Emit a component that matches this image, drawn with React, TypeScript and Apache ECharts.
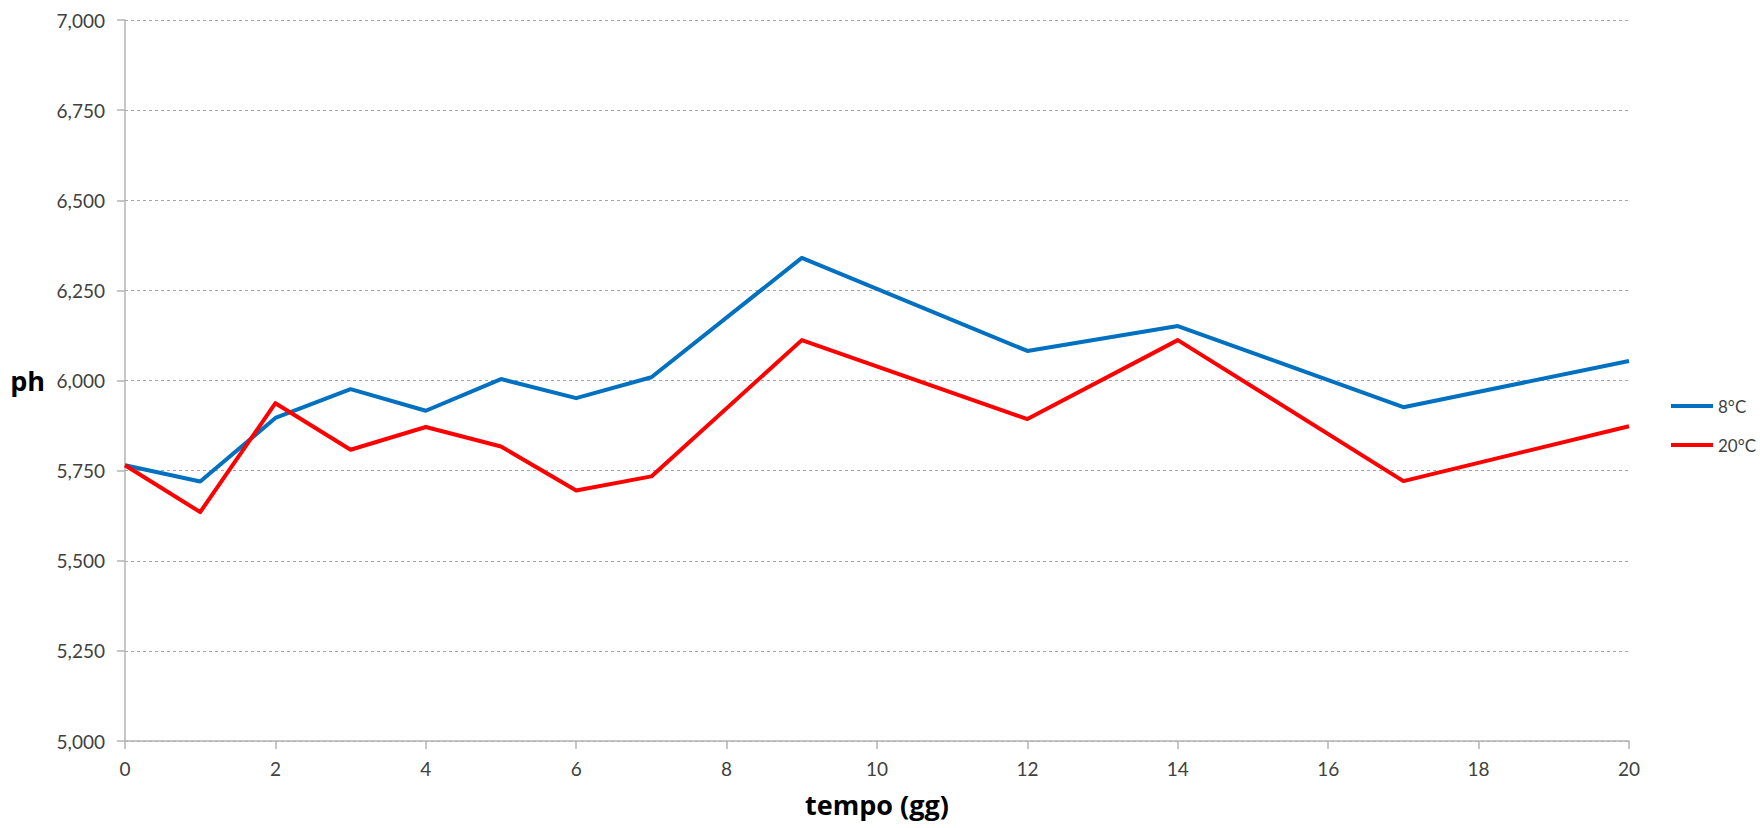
import React, { useEffect, useRef } from "react";
import * as echarts from "echarts";

// Sampling days (gg) and measured pH for the two storage temperatures
const days: number[] = [0, 1, 2, 3, 4, 5, 6, 7, 9, 12, 14, 17, 20];
const ph8C: number[] = [5.765, 5.72, 5.896, 5.976, 5.916, 6.004, 5.951, 6.009, 6.34, 6.082, 6.151, 5.926, 6.054];
const ph20C: number[] = [5.765, 5.635, 5.937, 5.808, 5.871, 5.817, 5.695, 5.734, 6.112, 5.893, 6.112, 5.721, 5.873];
const seriesNames: string[] = ["8°C", "20°C"];

const FONT = "Lato, 'Liberation Sans', sans-serif";
const TITLE_FONT = "'Open Sans', 'Liberation Sans', sans-serif";
const AXIS_GREY = "#b3b3b3";
const LABEL_COLOR = "#404040";

export default function App() {
  const ref = useRef<HTMLDivElement>(null);

  useEffect(() => {
    if (!ref.current) return;
    const chart = echarts.init(ref.current, undefined, { renderer: "svg" });

    const pairs = (ys: number[]) => days.map((d, i) => [d, ys[i]]);

    chart.setOption({
      animation: false,
      backgroundColor: "#ffffff",
      textStyle: { fontFamily: FONT },
      grid: { left: 125, right: 131, top: 20, bottom: 87, containLabel: false },
      legend: {
        orient: "vertical",
        left: 1666,
        top: 391,
        itemWidth: 42,
        itemHeight: 4,
        itemGap: 19,
        icon: "rect",
        data: seriesNames,
        textStyle: { fontFamily: FONT, fontSize: 17, color: LABEL_COLOR, lineHeight: 20 },
      },
      xAxis: {
        type: "value",
        min: 0,
        max: 20,
        interval: 2,
        name: "tempo (gg)",
        nameLocation: "middle",
        nameGap: 50,
        nameTextStyle: {
          fontFamily: TITLE_FONT,
          fontSize: 27,
          fontWeight: "bold",
          color: "#000000",
          verticalAlign: "top",
        },
        axisLine: { show: true, lineStyle: { color: AXIS_GREY, width: 1.5 } },
        axisTick: { show: true, length: 8, lineStyle: { color: AXIS_GREY, width: 1.5 } },
        axisLabel: { margin: 18, fontSize: 19, color: LABEL_COLOR, fontFamily: FONT },
        splitLine: { show: false },
      },
      yAxis: {
        type: "value",
        min: 5,
        max: 7,
        interval: 0.25,
        name: "ph",
        nameLocation: "middle",
        nameRotate: 0,
        nameGap: 80,
        nameTextStyle: {
          fontFamily: TITLE_FONT,
          fontSize: 27,
          fontWeight: "bold",
          color: "#000000",
          align: "right",
          verticalAlign: "middle",
        },
        axisLine: { show: true, lineStyle: { color: AXIS_GREY, width: 1.5 } },
        axisTick: { show: true, length: 8, lineStyle: { color: AXIS_GREY, width: 1.5 } },
        axisLabel: {
          margin: 20,
          fontSize: 19,
          color: LABEL_COLOR,
          fontFamily: FONT,
          formatter: (v: number) => v.toFixed(3).replace(".", ","),
        },
        splitLine: { show: true, lineStyle: { color: "#a6a6a6", type: [3, 3], width: 1 } },
      },
      series: [
        {
          name: seriesNames[0],
          type: "line",
          data: pairs(ph8C),
          showSymbol: false,
          symbol: "none",
          lineStyle: { color: "#0070C0", width: 4, join: "round" },
          itemStyle: { color: "#0070C0" },
          z: 2,
        },
        {
          name: seriesNames[1],
          type: "line",
          data: pairs(ph20C),
          showSymbol: false,
          symbol: "none",
          lineStyle: { color: "#FF0000", width: 4, join: "round" },
          itemStyle: { color: "#FF0000" },
          z: 3,
        },
      ],
    });

    return () => chart.dispose();
  }, []);

  return (
    <div
      ref={ref}
      style={{ position: "fixed", left: 0, top: 0, width: 1760, height: 828, background: "#ffffff" }}
    />
  );
}
